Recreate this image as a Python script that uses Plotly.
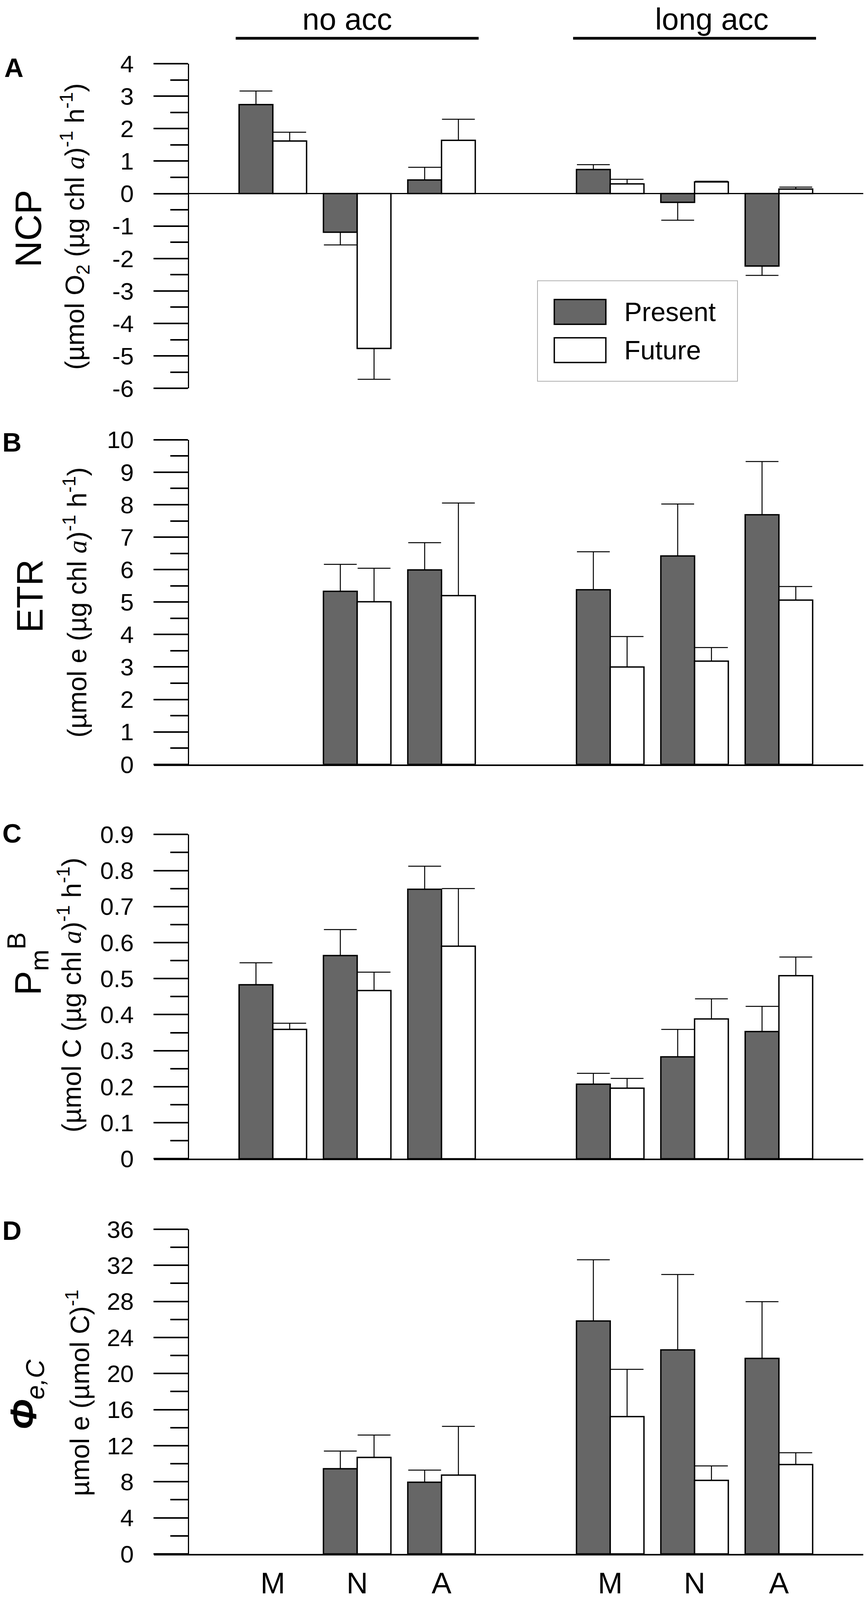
import plotly.graph_objects as go

# reference canvas size in px (layout is laid out on this grid, then fitted to the window)
W, H = 2217, 4268

# categories (time of day) for the two acclimation groups
groups = ["no acc", "long acc"]
times = ["M", "N", "A"]

# NCP (panel A)
ncp_present = [2.74, -1.19, 0.42, 0.74, -0.27, -2.23]
ncp_present_err = [0.42, 0.39, 0.39, 0.15, 0.55, 0.29]
ncp_future = [1.62, -4.77, 1.64, 0.30, 0.36, 0.14]
ncp_future_err = [0.27, 0.95, 0.65, 0.14, 0.02, 0.06]

# ETR (panel B)
etr_present = [None, 5.33, 5.99, 5.38, 6.42, 7.69]
etr_present_err = [None, 0.83, 0.84, 1.17, 1.60, 1.64]
etr_future = [None, 5.01, 5.20, 3.00, 3.18, 5.06]
etr_future_err = [None, 1.03, 2.85, 0.94, 0.42, 0.42]

# PmB (panel C)
pm_present = [0.483, 0.564, 0.748, 0.207, 0.283, 0.353]
pm_present_err = [0.061, 0.072, 0.064, 0.030, 0.076, 0.070]
pm_future = [0.359, 0.467, 0.590, 0.196, 0.388, 0.508]
pm_future_err = [0.017, 0.051, 0.160, 0.027, 0.056, 0.052]

# Phi e,C (panel D)
phi_present = [None, 9.44, 7.95, 25.83, 22.62, 21.68]
phi_present_err = [None, 1.96, 1.34, 6.78, 8.36, 6.29]
phi_future = [None, 10.70, 8.74, 15.22, 8.15, 9.91]
phi_future_err = [None, 2.48, 5.40, 5.24, 1.61, 1.31]

FONT = "Liberation Sans, Arial, sans-serif"
DARK = "#666666"


def px(x):  # pixel -> paper x
    return x / W


def py(y):  # pixel -> paper y (from top)
    return 1 - y / H


# bar slots: 3 per group, one empty slot between groups
slots = [4 * g + k + 1 for g in range(len(groups)) for k in range(len(times))]
labels = [t for g in groups for t in times]

panels = [
    dict(letter="A", present=ncp_present, perr=ncp_present_err, future=ncp_future, ferr=ncp_future_err,
         rng=[-6, 4], dtick=1, minor=0.5, top=170, bottom=1036),
    dict(letter="B", present=etr_present, perr=etr_present_err, future=etr_future, ferr=etr_future_err,
         rng=[0, 10], dtick=1, minor=0.5, top=1173, bottom=2039),
    dict(letter="C", present=pm_present, perr=pm_present_err, future=pm_future, ferr=pm_future_err,
         rng=[0, 0.9], dtick=0.1, minor=0.05, top=2226, bottom=3091),
    dict(letter="D", present=phi_present, perr=phi_present_err, future=phi_future, ferr=phi_future_err,
         rng=[0, 36], dtick=4, minor=2, top=3279, bottom=4145),
]


def err_dirs(vals, errs):
    up = [None if v is None else (e if v >= 0 else 0) for v, e in zip(vals, errs)]
    down = [None if v is None else (0 if v >= 0 else e) for v, e in zip(vals, errs)]
    return up, down


fig = go.Figure()
layout = {}

for i, p in enumerate(panels):
    n = "" if i == 0 else str(i + 1)
    for vals, errs, color, off in [(p["present"], p["perr"], DARK, -0.4),
                                   (p["future"], p["ferr"], "white", 0.0)]:
        up, down = err_dirs(vals, errs)
        fig.add_trace(go.Bar(
            x=slots, y=vals, width=0.4, offset=off,
            marker=dict(color=color, line=dict(color="black", width=3.5)),
            error_y=dict(type="data", symmetric=False, array=up, arrayminus=down,
                         color="black", thickness=2.5, width=42),
            xaxis="x" + n, yaxis="y" + n, showlegend=False,
        ))

    xa = dict(domain=[px(394), px(2210)], range=[-0.41, 8], anchor="y" + n, automargin=False,
              showgrid=False, zeroline=False, showticklabels=False, ticks="",
              showline=(i > 0), linecolor="black", linewidth=3.5)
    if i == 3:
        xa.update(showticklabels=True, tickmode="array", tickvals=slots, ticktext=labels,
                  tickfont=dict(family=FONT, size=76, color="black"), ticklabelstandoff=6)

    lo, hi = p["rng"]
    nticks = int(round((hi - lo) / p["dtick"]))
    tv = [round(lo + k * p["dtick"], 6) for k in range(nticks + 1)]
    ya = dict(domain=[py(p["bottom"]), py(p["top"])], range=p["rng"], anchor="free", automargin=False,
              position=px(482), showgrid=False, showline=True, linecolor="black", linewidth=3,
              ticks="outside", ticklen=88, tickwidth=3.5, tickcolor="black",
              tickmode="array", tickvals=tv, ticktext=["%g" % v for v in tv],
              tickfont=dict(family=FONT, size=62, color="black"), ticklabelstandoff=38,
              minor=dict(ticks="outside", ticklen=45, tickwidth=3.5, tickcolor="black",
                         tickmode="linear", dtick=p["minor"], tick0=0, showgrid=False),
              zeroline=(i == 0), zerolinecolor="black", zerolinewidth=2.5)
    layout["xaxis" + n] = xa
    layout["yaxis" + n] = ya


def note(text, x, y, size, angle=0, xanchor="center"):
    return dict(text=text, x=px(x), y=py(y), xref="paper", yref="paper", textangle=angle,
                xanchor=xanchor, yanchor="middle", showarrow=False,
                font=dict(family=FONT, size=size, color="black"))


annotations = []
# panel letters
for p, (lx, ly) in zip(panels, [(35, 180), (30, 1180), (31, 2223), (30, 3282)]):
    annotations.append(note("<b>%s</b>" % p["letter"], lx, ly, 68))

chl_a = "<span style='font-family:Liberation Serif'><i>a</i></span>"
titles = [
    ("NCP", (72, 610), "(µmol O<sub>2</sub> (µg chl %s)<sup>-1</sup> h<sup>-1</sup>)" % chl_a, (191, 604)),
    ("ETR", (77, 1590), "(µmol e (µg chl %s)<sup>-1</sup> h<sup>-1</sup>)" % chl_a, (193, 1607)),
    ("P<sub>m</sub><sup>B</sup>", (71, 2572), "(µmol C (µg chl %s)<sup>-1</sup> h<sup>-1</sup>)" % chl_a, (178, 2655)),
    ("<b><i>Φ</i></b><sub><i>e,C</i></sub>", (67, 3720), "µmol e (µmol C)<sup>-1</sup>", (200, 3716)),
]
for main, (mx, my), sub, (sx, sy) in titles:
    annotations.append(note(main, mx, my, 94, angle=-90))
    annotations.append(note(sub, sx, sy, 68, angle=-90))

# group headers above panel A
for name, cx in zip(groups, [889, 1822]):
    annotations.append(note(name, cx, 51, 78))

shapes = []
for x0, x1 in [(0.56, 3.44), (4.56, 7.44)]:
    shapes.append(dict(type="line", xref="x", yref="paper", x0=x0, x1=x1, y0=py(102), y1=py(102),
                       line=dict(color="black", width=7)))

# legend box drawn by hand (big swatches)
shapes.append(dict(type="rect", xref="paper", yref="paper", x0=px(1376), x1=px(1888), y0=py(1017), y1=py(749),
                   line=dict(color="#b0b0b0", width=2), fillcolor="white", layer="above"))
for name, color, top in [("Present", DARK, 799), ("Future", "white", 901)]:
    shapes.append(dict(type="rect", xref="paper", yref="paper", x0=px(1419), x1=px(1551),
                       y0=py(top + 66), y1=py(top), line=dict(color="black", width=3.5),
                       fillcolor=color, layer="above"))
    annotations.append(note(name, 1596, top + 33, 68, xanchor="left"))

fig.update_layout(
    template="none",
    autosize=True, margin=dict(l=0, r=0, t=0, b=0, pad=0),
    paper_bgcolor="white", plot_bgcolor="white",
    barmode="overlay", showlegend=False,
    annotations=annotations, shapes=shapes,
    **layout,
)

# fill the browser window exactly
fig.write_html("out.html", config={"displayModeBar": False}, default_width="100vw",
               default_height="100vh; position:absolute; top:0; left:0")
